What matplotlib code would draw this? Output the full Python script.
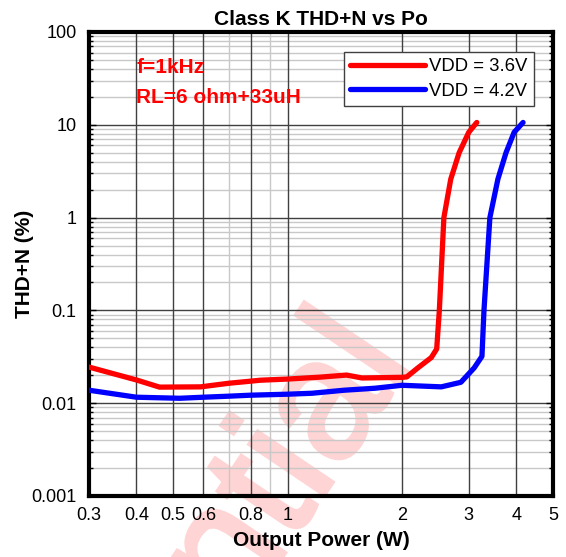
import numpy as np
import matplotlib
matplotlib.use("Agg")
import matplotlib.pyplot as plt
from matplotlib.ticker import FixedLocator, NullFormatter, LogLocator
from matplotlib.textpath import TextPath
from matplotlib.font_manager import FontProperties
from matplotlib.patches import PathPatch
from matplotlib.transforms import Affine2D

plt.rcParams['font.family'] = ['Liberation Sans', 'DejaVu Sans']

# THD+N vs output power, 1 kHz, 6 ohm + 33 uH load
po_36 = [0.30, 0.40, 0.46, 0.59, 0.70, 0.85, 1.00, 1.22, 1.43, 1.57, 2.00, 2.06,
         2.20, 2.39, 2.47, 2.51, 2.58, 2.69, 2.83, 3.00, 3.15]
thd_36 = [0.0245, 0.0178, 0.0149, 0.0150, 0.0164, 0.0177, 0.0182, 0.0191, 0.0201, 0.0187, 0.0190, 0.0192,
          0.0239, 0.0310, 0.0384, 0.10, 1.0, 2.6, 5.0, 8.3, 10.6]

po_42 = [0.30, 0.40, 0.52, 0.60, 0.70, 0.80, 1.00, 1.16, 1.41, 1.70, 2.00, 2.54,
         2.86, 3.10, 3.25, 3.29, 3.41, 3.58, 3.76, 3.95, 4.17]
thd_42 = [0.0138, 0.0116, 0.0113, 0.0116, 0.0119, 0.0122, 0.0125, 0.0128, 0.0138, 0.0145, 0.0156, 0.0150,
          0.0168, 0.0240, 0.0320, 0.10, 1.0, 2.6, 5.0, 8.3, 10.6]

x_ticks = [0.3, 0.4, 0.5, 0.6, 0.8, 1, 2, 3, 4, 5]
x_ticklabels = ['0.3', '0.4', '0.5', '0.6', '0.8', '1', '2', '3', '4', '5']
x_light = [0.7, 0.9]
y_ticks = [0.001, 0.01, 0.1, 1, 10, 100]
y_ticklabels = ['0.001', '0.01', '0.1', '1', '10', '100']

W, H = 566, 557
fig = plt.figure(figsize=(W / 100, H / 100), dpi=100)
ax = fig.add_axes([89 / W, 1 - 496 / H, 464 / W, 464 / H])
ax.patch.set_visible(False)
ax.set_xscale('log')
ax.set_yscale('log')
ax.set_xlim(0.3, 5)
ax.set_ylim(0.001, 100)

# watermark drawn as a glyph outline behind the axes, ending with the "l" stem
fp = FontProperties(family='Liberation Sans')
word = TextPath((0, 0), 'Confidential', size=1, prop=fp)
l_box = TextPath((0, 0), 'l', size=1, prop=fp).get_extents()
scale = 124 / l_box.height
end_x = word.get_extents().x1 - l_box.width / 2
wm_tr = (Affine2D().translate(-end_x, 0).scale(scale).rotate_deg(56)
         .translate(403, H - 378))
wm = PathPatch(word, transform=wm_tr, facecolor='#ffd4d4', edgecolor='#ffd4d4',
               lw=3.0, zorder=-1)
fig.add_artist(wm)

# grid: light minor lines, dark lines on labelled values
ax.yaxis.set_minor_locator(LogLocator(base=10, subs=np.arange(2, 10)))
ax.yaxis.set_minor_formatter(NullFormatter())
for v in ax.yaxis.get_minorticklocs():
    if 0.001 < v < 100:
        ax.axhline(v, color='#c8c8c8', lw=1.0, zorder=1)
for v in y_ticks[1:-1]:
    ax.axhline(v, color='#404040', lw=1.0, zorder=1.2)
for v in x_light:
    ax.axvline(v, color='#c8c8c8', lw=1.0, zorder=1)
for v in x_ticks[1:-1]:
    ax.axvline(v, color='#404040', lw=1.0, zorder=1.2)

ax.xaxis.set_major_locator(FixedLocator(x_ticks))
ax.xaxis.set_minor_locator(FixedLocator([]))
ax.set_xticklabels(x_ticklabels)
ax.set_yticks(y_ticks)
ax.set_yticklabels(y_ticklabels)
ax.tick_params(which='both', direction='in', right=True, top=False, labelsize=13)
ax.tick_params(axis='x', which='major', length=0, pad=8)
ax.tick_params(axis='y', which='major', length=5, width=1, pad=9)
ax.tick_params(axis='y', which='minor', length=3, width=1)

for s in ax.spines.values():
    s.set_linewidth(3)

ax.plot(po_36, thd_36, color='#ff0000', lw=3.8, solid_capstyle='round', zorder=3, label='VDD = 3.6V')
ax.plot(po_42, thd_42, color='#0000ff', lw=3.8, solid_capstyle='round', zorder=3, label='VDD = 4.2V')

ax.text(0.40, 41, 'f=1kHz', color='#ff0000', fontsize=15, fontweight='bold', va='center')
ax.text(0.40, 19.5, 'RL=6 ohm+33uH', color='#ff0000', fontsize=15, fontweight='bold', va='center')

leg = ax.legend(loc='upper right', bbox_to_anchor=(0.959, 0.957), borderaxespad=0,
                fontsize=13.3, handlelength=4.05, handletextpad=0.22, labelspacing=0.4,
                fancybox=False, edgecolor='#404040', framealpha=1, borderpad=0.35)
leg.get_frame().set_linewidth(1.0)

ax.set_title('Class K THD+N vs Po', fontsize=15, fontweight='bold', pad=5)
ax.set_xlabel('Output Power (W)', fontsize=15, fontweight='bold', labelpad=5)
ax.set_ylabel('THD+N (%)', fontsize=15, fontweight='bold')
ax.yaxis.set_label_coords(-0.118, 0.5)

fig.savefig('out.png', dpi=100)
